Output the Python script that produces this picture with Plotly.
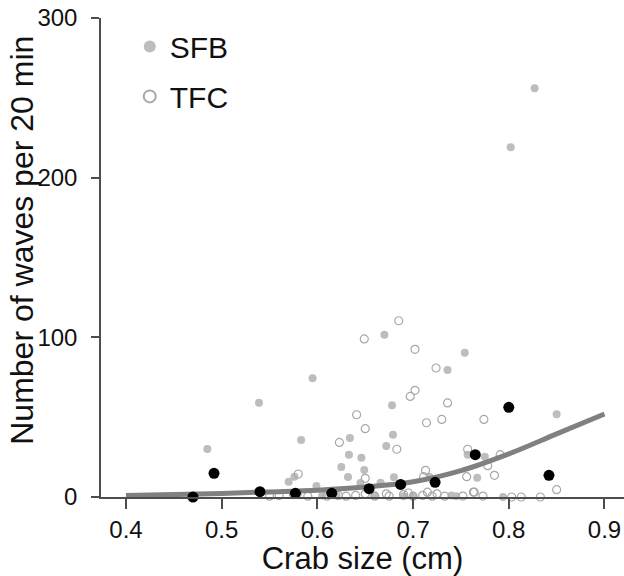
import plotly.graph_objects as go

# SFB (grey filled)
sfb_x = [0.485, 0.539, 0.570, 0.576, 0.583, 0.595, 0.599, 0.625, 0.632, 0.633, 0.634, 0.645,
         0.646, 0.649, 0.666, 0.670, 0.672, 0.678, 0.679, 0.680, 0.717, 0.736, 0.754, 0.757,
         0.767, 0.802, 0.775, 0.827, 0.850,
         0.740, 0.794, 0.620, 0.660, 0.690, 0.745, 0.580, 0.605, 0.700]
sfb_y = [30, 59, 9.6, 12.7, 35.7, 74.3, 6.9, 18.8, 12.5, 26.5, 37, 8.8,
         24.6, 16.9, 9, 101.6, 32, 57.4, 39, 12.3, 12.7, 79.5, 90.4, 26.5,
         12.1, 219, 25.2, 256, 51.8,
         1, 0, 1, 1, 0.5, 0.5, 2, 1, 0.5]

# TFC (open circles)
tfc_x = [0.580, 0.623, 0.641, 0.649, 0.650, 0.650, 0.683, 0.685, 0.697, 0.702, 0.702, 0.711,
         0.713, 0.714, 0.724, 0.730, 0.736, 0.756, 0.757, 0.763, 0.774, 0.778, 0.785, 0.791,
         0.850,
         0.550, 0.560, 0.575, 0.590, 0.610, 0.622, 0.630, 0.640, 0.650, 0.660, 0.672, 0.675,
         0.690, 0.695, 0.700, 0.710, 0.715, 0.720, 0.725, 0.733, 0.752, 0.764, 0.773, 0.803,
         0.813, 0.833]
tfc_y = [14.4, 34.2, 51.5, 99, 42.8, 11.7, 29.9, 110.4, 63, 66.8, 92.5, 12.7,
         16.7, 46.5, 80.8, 48.6, 58.9, 12.7, 29.9, 3.1, 48.6, 19.6, 13.6, 26.5,
         4.6,
         0.5, 1, 1.5, 0.5, 0.5, 1, 0.5, 1, 2, 0.5, 2, 0.5,
         1.5, 2.5, 0.5, 1, 3, 0.5, 2, 0.5, 0.6, 3, 0.6, 0,
         0, 0]

# Binned means (black)
mean_x = [0.470, 0.492, 0.540, 0.577, 0.615, 0.654, 0.687, 0.723, 0.765, 0.800, 0.842]
mean_y = [0, 14.8, 3.3, 2.3, 2.3, 5.2, 7.9, 9.2, 26.5, 56.2, 13.6]

# Fitted curve
fit_x = [0.40, 0.45, 0.50, 0.55, 0.60, 0.65, 0.70, 0.75, 0.80, 0.85, 0.90]
fit_y = [1.0, 1.5, 2.2, 3.2, 4.3, 6.2, 9.5, 16.5, 27, 39.5, 52]

x_ticks = [0.4, 0.5, 0.6, 0.7, 0.8, 0.9]
x_tick_text = ["0.4", "0.5", "0.6", "0.7", "0.8", "0.9"]
y_ticks = [0, 100, 200, 300]
y_tick_text = ["0", "100", "200", "300"]

FONT = "Liberation Sans, Arial, sans-serif"
TXT = "#111111"
AX = "#4d4d4d"

fig = go.Figure()
fig.add_trace(go.Scatter(
    x=sfb_x, y=sfb_y, mode="markers", name="SFB",
    marker=dict(symbol="circle", size=8, color="#bdbdbd", line=dict(width=0)),
    cliponaxis=False, legendgroup="a"))
fig.add_trace(go.Scatter(
    x=tfc_x, y=tfc_y, mode="markers", name="TFC",
    marker=dict(symbol="circle-open", size=8, color="#a8a8a8", line=dict(width=1.2)),
    cliponaxis=False, legendgroup="b"))
fig.add_trace(go.Scatter(
    x=fit_x, y=fit_y, mode="lines", line=dict(color="#808080", width=5, shape="spline"),
    showlegend=False, cliponaxis=False))
fig.add_trace(go.Scatter(
    x=mean_x, y=mean_y, mode="markers",
    marker=dict(symbol="circle", size=11, color="#000000"),
    showlegend=False, cliponaxis=False))

fig.add_annotation(
    text="Number of waves per 20 min", textangle=-90,
    xref="paper", yref="paper", x=-0.151, y=0.535, xanchor="center", yanchor="middle",
    showarrow=False, font=dict(size=32, family=FONT, color=TXT))

fig.update_layout(
    width=624, height=576,
    margin=dict(l=101, r=0, t=18, b=79, pad=0),
    paper_bgcolor="white", plot_bgcolor="white",
    font=dict(family=FONT, color=TXT),
    showlegend=True,
    legend=dict(x=0.055, y=0.995, xanchor="left", yanchor="top",
                font=dict(size=30, family=FONT, color=TXT),
                bgcolor="rgba(0,0,0,0)", borderwidth=0, itemsizing="constant",
                traceorder="grouped", tracegroupgap=8, itemwidth=30),
    xaxis=dict(range=[0.3739, 0.9204], tickvals=x_ticks, ticktext=x_tick_text,
               showgrid=False, zeroline=False, showline=True, linecolor=AX, linewidth=1.5,
               ticks="outside", ticklen=10, tickwidth=1.5, tickcolor=AX,
               tickfont=dict(size=24, family=FONT, color=TXT),
               title=dict(text="Crab size (cm)", font=dict(size=31, family=FONT, color=TXT),
                          standoff=2)),
    yaxis=dict(range=[0, 300], tickvals=y_ticks, ticktext=y_tick_text,
               showgrid=False, zeroline=False, showline=True, linecolor=AX, linewidth=1.5,
               ticks="outside", ticklen=8, tickwidth=1.5, tickcolor=AX,
               tickfont=dict(size=24, family=FONT, color=TXT),
               ticklabelstandoff=9),
)

fig.write_html("out.html")
